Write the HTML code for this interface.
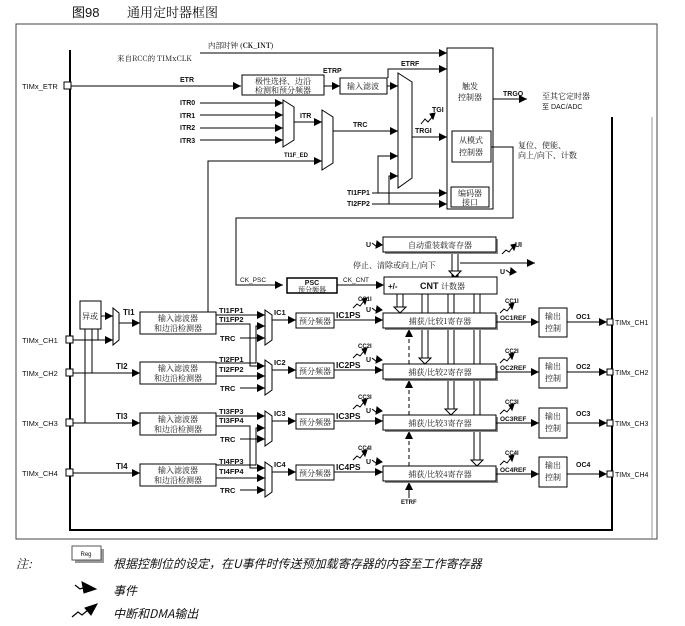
<!DOCTYPE html>
<html><head><meta charset="utf-8"><style>
html,body{margin:0;padding:0;background:#fff;}
svg{display:block;}
text{font-family:"Liberation Sans","Noto Sans CJK SC",sans-serif;fill:#111;}
.b{font-weight:bold;font-size:7px;}
.c{font-family:"Noto Serif CJK SC","Noto Sans CJK SC",serif;font-size:8px;}
.l{font-size:7.5px;}
</style></head><body>
<svg width="685" height="626" viewBox="0 0 685 626" xmlns="http://www.w3.org/2000/svg">
<defs>
<marker id="a" markerUnits="userSpaceOnUse" markerWidth="9" markerHeight="8" refX="8" refY="4" orient="auto"><path d="M0,0 L8,4 L0,8 z" fill="#000"/></marker>
<marker id="h" markerUnits="userSpaceOnUse" markerWidth="12" markerHeight="8" refX="6" refY="7" orient="0"><path d="M0.5,0.5 L11.5,0.5 L6,7.5 z" fill="#fff" stroke="#000" stroke-width="1"/></marker>
</defs>
<g stroke="#000" fill="none" stroke-width="1">
<!-- title -->
<text x="72" y="17" style="font-size:13px" stroke="none">图98</text>
<text x="127" y="17" style="font-size:13px" class="c" stroke="none">通用定时器框图</text>

<!-- frames -->
<rect x="16" y="24" width="641" height="515" stroke="#444"/>
<line x1="70" y1="50" x2="70" y2="530" stroke-width="2"/>
<line x1="69" y1="530" x2="613" y2="530" stroke-width="2"/>
<line x1="612" y1="117" x2="612" y2="531" stroke-width="2"/>
<line x1="652" y1="117" x2="652" y2="539" stroke="#999"/>

<!-- top clock -->
<text x="208" y="48" class="c" stroke="none" style="font-size:7.5px">内部时钟 <tspan class="b">(CK_INT)</tspan></text>
<line x1="200" y1="53" x2="447" y2="53" marker-end="url(#a)"/>
<text x="117" y="61" class="c" stroke="none" style="font-size:7.5px">来自RCC的 TIMxCLK</text>

<!-- ETR -->
<text x="22" y="89" class="l" stroke="none">TIMx_ETR</text>
<rect x="64" y="82" width="7" height="7" fill="#fff"/>
<line x1="71" y1="86" x2="241" y2="86" marker-end="url(#a)"/>
<text x="180" y="82" class="b" stroke="none">ETR</text>
<rect x="242" y="75" width="82" height="20" fill="#fff"/>
<text x="283" y="84" class="c" text-anchor="middle" stroke="none">极性选择、边沿</text>
<text x="283" y="93" class="c" text-anchor="middle" stroke="none">检测和预分频器</text>
<text x="323" y="73" class="b" stroke="none">ETRP</text>
<line x1="324" y1="86" x2="340" y2="86" marker-end="url(#a)"/>
<rect x="340" y="78" width="47" height="16" fill="#fff"/>
<text x="363" y="89" class="c" text-anchor="middle" stroke="none">输入滤波</text>
<line x1="387" y1="86" x2="398" y2="86" marker-end="url(#a)"/>
<polyline points="388,78 388,69 447,69" marker-end="url(#a)"/>
<text x="401" y="66" class="b" stroke="none">ETRF</text>

<!-- ITR mux -->
<text x="180" y="105" class="b" stroke="none">ITR0</text>
<text x="180" y="118" class="b" stroke="none">ITR1</text>
<text x="180" y="130" class="b" stroke="none">ITR2</text>
<text x="180" y="143" class="b" stroke="none">ITR3</text>
<line x1="200" y1="103" x2="283" y2="103" marker-end="url(#a)"/>
<line x1="200" y1="115" x2="283" y2="115" marker-end="url(#a)"/>
<line x1="200" y1="128" x2="283" y2="128" marker-end="url(#a)"/>
<line x1="200" y1="140" x2="283" y2="140" marker-end="url(#a)"/>
<polygon points="283,100 294,107 294,140 283,147" fill="#fff"/>
<line x1="294" y1="122" x2="322" y2="122" marker-end="url(#a)"/>
<text x="300" y="118" class="b" stroke="none">ITR</text>
<polygon points="322,110 333,117 333,163 322,170" fill="#fff"/>
<polyline points="208,312 208,161 322,161" marker-end="url(#a)"/>
<text x="284" y="157" class="b" stroke="none" style="font-size:6px">TI1F_ED</text>
<line x1="333" y1="131" x2="398" y2="131" marker-end="url(#a)"/>
<text x="353" y="127" class="b" stroke="none">TRC</text>

<!-- big mux -->
<polygon points="398,73 412,82 412,178 398,188" fill="#fff"/>
<line x1="412" y1="137" x2="447" y2="137" marker-end="url(#a)"/>
<text x="415" y="133" class="b" stroke="none">TRGI</text>
<polyline points="421,124 425,119 428,122 433,116" />
<path d="M430,114 L435,113 L433,119 z" fill="#000"/>
<text x="432" y="112" class="b" stroke="none">TGI</text>
<text x="347" y="195" class="b" stroke="none">TI1FP1</text>
<text x="347" y="206" class="b" stroke="none">TI2FP2</text>
<line x1="372" y1="193" x2="447" y2="193" marker-end="url(#a)"/>
<line x1="372" y1="204" x2="447" y2="204" marker-end="url(#a)"/>
<polyline points="378,193 378,156 398,156" marker-end="url(#a)"/>
<polyline points="389,204 389,176 398,176" marker-end="url(#a)"/>

<!-- trigger controller -->
<rect x="447" y="48" width="46" height="161" fill="#fff"/>
<text x="470" y="89" class="c" text-anchor="middle" stroke="none">触发</text>
<text x="470" y="100" class="c" text-anchor="middle" stroke="none">控制器</text>
<rect x="452" y="131" width="39" height="31" fill="#fff"/>
<text x="471" y="143" class="c" text-anchor="middle" stroke="none">从模式</text>
<text x="471" y="155" class="c" text-anchor="middle" stroke="none">控制器</text>
<rect x="451" y="187" width="38" height="20" fill="#fff"/>
<text x="470" y="196" class="c" text-anchor="middle" stroke="none">编码器</text>
<text x="470" y="205" class="c" text-anchor="middle" stroke="none">接口</text>
<line x1="493" y1="99" x2="527" y2="99" marker-end="url(#a)"/>
<text x="503" y="96" class="b" stroke="none">TRGO</text>
<text x="542" y="99" class="c" stroke="none">至其它定时器</text>
<text x="542" y="109" class="l" stroke="none" style="font-size:7px">至 DAC/ADC</text>
<text x="518" y="148" class="c" stroke="none">复位、使能、</text>
<text x="518" y="158" class="c" stroke="none">向上/向下、计数</text>
<polyline points="491,147 513,147 513,218 236,218 236,285 283,285" marker-end="url(#a)"/>
<text x="240" y="282" class="l" stroke="none" style="font-size:6.5px">CK_PSC</text>
<rect x="287" y="278" width="50" height="15" fill="#fff" stroke-width="1.5"/>
<text x="312" y="285" class="b" text-anchor="middle" stroke="none">PSC</text>
<text x="312" y="292" class="c" text-anchor="middle" stroke="none" style="font-size:7px">预分频器</text>
<line x1="337" y1="285" x2="384" y2="285" marker-end="url(#a)"/>
<text x="343" y="282" class="l" stroke="none" style="font-size:6.5px">CK_CNT</text>

<!-- auto reload + CNT -->
<line x1="455" y1="252" x2="455" y2="277" stroke-width="7" stroke="#000"/>
<line x1="455" y1="252" x2="455" y2="272" stroke-width="5" stroke="#fff"/>
<path d="M449,271 L461,271 L455,277 z" fill="#fff"/>
<line x1="460" y1="263" x2="535" y2="263" marker-end="url(#a)"/>
<rect x="385" y="239" width="113" height="15" fill="#888" stroke="none"/>
<rect x="383" y="237" width="113" height="15" fill="#fff"/>
<text x="440" y="248" class="c" text-anchor="middle" stroke="none">自动重装载寄存器</text>
<text x="366" y="247" class="b" stroke="none">U</text>
<path d="M372,243 L376,246 L381,244" /><path d="M377,241 L382,245 L376,248 z" fill="#000"/>
<text x="353" y="268" class="c" stroke="none">停止、清除或向上/向下</text>
<polyline points="502,254 506,250 509,252 513,247"/><path d="M511,245 L516,244 L514,250 z" fill="#000"/>
<text x="515" y="247" class="b" stroke="none">UI</text>
<text x="500" y="274" class="b" stroke="none">U</text>
<path d="M506,270 L510,273 L515,271"/><path d="M511,268 L516,272 L510,275 z" fill="#000"/>

<!-- hollow vertical buses -->
<g stroke-width="1">
<line x1="397" y1="294" x2="397" y2="307"/><line x1="403" y1="294" x2="403" y2="307"/>
<line x1="422" y1="294" x2="422" y2="358"/><line x1="428" y1="294" x2="428" y2="358"/>
<line x1="448" y1="294" x2="448" y2="409"/><line x1="454" y1="294" x2="454" y2="409"/>
<line x1="474" y1="294" x2="474" y2="460"/><line x1="480" y1="294" x2="480" y2="460"/>
<path d="M394,307 L406,307 L400,313 z" fill="#fff"/>
<path d="M419,358 L431,358 L425,364 z" fill="#fff"/>
<path d="M445,409 L457,409 L451,415 z" fill="#fff"/>
<path d="M471,460 L483,460 L477,466 z" fill="#fff"/>
</g>
<rect x="384" y="277" width="113" height="17" fill="#fff"/>
<text x="388" y="289" class="b" stroke="none" style="font-size:8px">+/-</text>
<text x="420" y="289" class="b" stroke="none" style="font-size:9px">CNT <tspan class="c" style="font-weight:normal">计数器</tspan></text>

<!-- dashed arrows -->
<line x1="409" y1="364" x2="409" y2="329" stroke-dasharray="4,3" marker-end="url(#a)"/>
<line x1="409" y1="415" x2="409" y2="380" stroke-dasharray="4,3" marker-end="url(#a)"/>
<line x1="409" y1="466" x2="409" y2="431" stroke-dasharray="4,3" marker-end="url(#a)"/>
<line x1="409" y1="498" x2="409" y2="482" marker-end="url(#a)"/>
<text x="401" y="504" class="b" stroke="none" style="font-size:6px">ETRF</text>

<!-- XOR & ch1 input -->
<rect x="80" y="301" width="21" height="28" fill="#fff"/>
<text x="90" y="319" class="c" text-anchor="middle" stroke="none">异或</text>
<line x1="101" y1="316" x2="113" y2="316" marker-end="url(#a)"/>
<polygon points="113,308 119,313 119,340 113,345" fill="#fff"/>
<line x1="73" y1="340" x2="113" y2="340" marker-end="url(#a)"/>
<line x1="85" y1="329" x2="85" y2="423"/>
<line x1="92" y1="329" x2="92" y2="373"/>
<line x1="98" y1="329" x2="98" y2="340"/>
<line x1="119" y1="323" x2="140" y2="323" marker-end="url(#a)"/>
<text x="123" y="315" class="b" stroke="none" style="font-size:8px">TI1</text>
<line x1="73" y1="373" x2="140" y2="373" marker-end="url(#a)"/>
<text x="116" y="369" class="b" stroke="none" style="font-size:8px">TI2</text>
<line x1="73" y1="423" x2="140" y2="423" marker-end="url(#a)"/>
<text x="116" y="419" class="b" stroke="none" style="font-size:8px">TI3</text>
<line x1="73" y1="473" x2="140" y2="473" marker-end="url(#a)"/>
<text x="116" y="469" class="b" stroke="none" style="font-size:8px">TI4</text>

<!-- pins left -->
<text x="22" y="343" class="l" stroke="none">TIMx_CH1</text><rect x="66" y="336" width="7" height="7" fill="#fff"/>
<text x="22" y="376" class="l" stroke="none">TIMx_CH2</text><rect x="66" y="369" width="7" height="7" fill="#fff"/>
<text x="22" y="426" class="l" stroke="none">TIMx_CH3</text><rect x="66" y="419" width="7" height="7" fill="#fff"/>
<text x="22" y="476" class="l" stroke="none">TIMx_CH4</text><rect x="66" y="469" width="7" height="7" fill="#fff"/>

<!-- cross-routing between channel pairs -->
<polyline points="216,324 250,324 250,366 265,366" marker-end="url(#a)"/>
<polyline points="216,363 256,363 256,326 265,326" marker-end="url(#a)"/>
<polyline points="216,426 250,426 250,468 265,468" marker-end="url(#a)"/>
<polyline points="216,465 256,465 256,428 265,428" marker-end="url(#a)"/>
</g>

<!-- channel rows -->
<g stroke="#000" fill="none" stroke-width="1">
<!-- ROW 1 bt=312 -->
<g transform="translate(0,312)">
<rect x="140" y="0" width="76" height="22" fill="#fff"/>
<text x="178" y="9" class="c" text-anchor="middle" stroke="none">输入滤波器</text>
<text x="178" y="19" class="c" text-anchor="middle" stroke="none">和边沿检测器</text>
<text x="219" y="1" class="b" stroke="none" style="font-size:7.5px">TI1FP1</text>
<text x="219" y="10" class="b" stroke="none" style="font-size:7.5px">TI1FP2</text>
<line x1="216" y1="3" x2="265" y2="3" marker-end="url(#a)"/>
<text x="220" y="29" class="b" stroke="none" style="font-size:7.5px">TRC</text>
<line x1="240" y1="26" x2="265" y2="26" marker-end="url(#a)"/>
<polygon points="265,-2 272,3 272,28 265,33" fill="#fff"/>
<line x1="272" y1="8" x2="296" y2="8" marker-end="url(#a)"/>
<text x="274" y="3" class="b" stroke="none" style="font-size:7.5px">IC1</text>
<rect x="296" y="1" width="38" height="15" fill="#fff"/>
<text x="315" y="12" class="c" text-anchor="middle" stroke="none">预分频器</text>
<line x1="334" y1="8" x2="383" y2="8" marker-end="url(#a)"/>
<text x="336" y="6" class="b" stroke="none" style="font-size:8.5px">IC1PS</text>
<polyline points="353,-4 357,-8 360,-6 364,-11"/><path d="M362,-13 L367,-14 L365,-8 z" fill="#000"/>
<text x="358" y="-11" class="b" stroke="none" style="font-size:6px">CC1I</text>
<text x="366" y="0" class="b" stroke="none">U</text>
<path d="M372,-4 L376,-1 L381,-3"/><path d="M377,-6 L382,-2 L376,1 z" fill="#000"/>
<rect x="385" y="3" width="113" height="15" fill="#888" stroke="none"/>
<rect x="383" y="1" width="113" height="15" fill="#fff"/>
<text x="440" y="12" class="c" text-anchor="middle" stroke="none">捕获/比较1寄存器</text>
<line x1="496" y1="10" x2="539" y2="10" marker-end="url(#a)"/>
<text x="500" y="8" class="b" stroke="none" style="font-size:6.5px">OC1REF</text>
<polyline points="500,1 504,-3 507,-1 511,-6"/><path d="M509,-8 L514,-9 L512,-3 z" fill="#000"/>
<text x="505" y="-9" class="b" stroke="none" style="font-size:6px">CC1I</text>
<rect x="539" y="-4" width="28" height="29" fill="#fff"/>
<text x="553" y="7" class="c" text-anchor="middle" stroke="none">输出</text>
<text x="553" y="19" class="c" text-anchor="middle" stroke="none">控制</text>
<line x1="567" y1="10" x2="607" y2="10" marker-end="url(#a)"/>
<text x="576" y="7" class="b" stroke="none">OC1</text>
<rect x="607" y="7" width="6" height="6" fill="#fff"/>
<text x="615" y="13" class="l" stroke="none" style="font-size:7px">TIMx_CH1</text>
</g>
<!-- ROW 2 bt=362 -->
<g transform="translate(0,362)">
<rect x="140" y="0" width="76" height="22" fill="#fff"/>
<text x="178" y="9" class="c" text-anchor="middle" stroke="none">输入滤波器</text>
<text x="178" y="19" class="c" text-anchor="middle" stroke="none">和边沿检测器</text>
<text x="219" y="0" class="b" stroke="none" style="font-size:7.5px">TI2FP1</text>
<text x="219" y="10" class="b" stroke="none" style="font-size:7.5px">TI2FP2</text>
<line x1="216" y1="14" x2="265" y2="14" marker-end="url(#a)"/>
<text x="220" y="29" class="b" stroke="none" style="font-size:7.5px">TRC</text>
<line x1="240" y1="26" x2="265" y2="26" marker-end="url(#a)"/>
<polygon points="265,-2 272,3 272,28 265,33" fill="#fff"/>
<line x1="272" y1="8" x2="296" y2="8" marker-end="url(#a)"/>
<text x="274" y="3" class="b" stroke="none" style="font-size:7.5px">IC2</text>
<rect x="296" y="1" width="38" height="15" fill="#fff"/>
<text x="315" y="12" class="c" text-anchor="middle" stroke="none">预分频器</text>
<line x1="334" y1="8" x2="383" y2="8" marker-end="url(#a)"/>
<text x="336" y="6" class="b" stroke="none" style="font-size:8.5px">IC2PS</text>
<polyline points="353,-4 357,-8 360,-6 364,-11"/><path d="M362,-13 L367,-14 L365,-8 z" fill="#000"/>
<text x="358" y="-14" class="b" stroke="none" style="font-size:6px">CC2I</text>
<text x="366" y="0" class="b" stroke="none">U</text>
<path d="M372,-4 L376,-1 L381,-3"/><path d="M377,-6 L382,-2 L376,1 z" fill="#000"/>
<rect x="385" y="4" width="113" height="15" fill="#888" stroke="none"/>
<rect x="383" y="2" width="113" height="15" fill="#fff"/>
<text x="440" y="13" class="c" text-anchor="middle" stroke="none">捕获/比较2寄存器</text>
<line x1="496" y1="10" x2="539" y2="10" marker-end="url(#a)"/>
<text x="500" y="8" class="b" stroke="none" style="font-size:6.5px">OC2REF</text>
<polyline points="500,1 504,-3 507,-1 511,-6"/><path d="M509,-8 L514,-9 L512,-3 z" fill="#000"/>
<text x="505" y="-9" class="b" stroke="none" style="font-size:6px">CC2I</text>
<rect x="539" y="-4" width="28" height="30" fill="#fff"/>
<text x="553" y="7" class="c" text-anchor="middle" stroke="none">输出</text>
<text x="553" y="19" class="c" text-anchor="middle" stroke="none">控制</text>
<line x1="567" y1="10" x2="607" y2="10" marker-end="url(#a)"/>
<text x="576" y="7" class="b" stroke="none">OC2</text>
<rect x="607" y="7" width="6" height="6" fill="#fff"/>
<text x="615" y="13" class="l" stroke="none" style="font-size:7px">TIMx_CH2</text>
</g>
<!-- ROW 3 bt=413 -->
<g transform="translate(0,413)">
<rect x="140" y="0" width="76" height="22" fill="#fff"/>
<text x="178" y="9" class="c" text-anchor="middle" stroke="none">输入滤波器</text>
<text x="178" y="19" class="c" text-anchor="middle" stroke="none">和边沿检测器</text>
<text x="219" y="1" class="b" stroke="none" style="font-size:7.5px">TI3FP3</text>
<text x="219" y="10" class="b" stroke="none" style="font-size:7.5px">TI3FP4</text>
<line x1="216" y1="3" x2="265" y2="3" marker-end="url(#a)"/>
<text x="220" y="29" class="b" stroke="none" style="font-size:7.5px">TRC</text>
<line x1="240" y1="26" x2="265" y2="26" marker-end="url(#a)"/>
<polygon points="265,-2 272,3 272,28 265,33" fill="#fff"/>
<line x1="272" y1="8" x2="296" y2="8" marker-end="url(#a)"/>
<text x="274" y="3" class="b" stroke="none" style="font-size:7.5px">IC3</text>
<rect x="296" y="1" width="38" height="15" fill="#fff"/>
<text x="315" y="12" class="c" text-anchor="middle" stroke="none">预分频器</text>
<line x1="334" y1="8" x2="383" y2="8" marker-end="url(#a)"/>
<text x="336" y="6" class="b" stroke="none" style="font-size:8.5px">IC3PS</text>
<polyline points="353,-4 357,-8 360,-6 364,-11"/><path d="M362,-13 L367,-14 L365,-8 z" fill="#000"/>
<text x="358" y="-14" class="b" stroke="none" style="font-size:6px">CC3I</text>
<text x="366" y="0" class="b" stroke="none">U</text>
<path d="M372,-4 L376,-1 L381,-3"/><path d="M377,-6 L382,-2 L376,1 z" fill="#000"/>
<rect x="385" y="4" width="113" height="15" fill="#888" stroke="none"/>
<rect x="383" y="2" width="113" height="15" fill="#fff"/>
<text x="440" y="13" class="c" text-anchor="middle" stroke="none">捕获/比较3寄存器</text>
<line x1="496" y1="10" x2="539" y2="10" marker-end="url(#a)"/>
<text x="500" y="8" class="b" stroke="none" style="font-size:6.5px">OC3REF</text>
<polyline points="500,1 504,-3 507,-1 511,-6"/><path d="M509,-8 L514,-9 L512,-3 z" fill="#000"/>
<text x="505" y="-9" class="b" stroke="none" style="font-size:6px">CC3I</text>
<rect x="539" y="-5" width="28" height="30" fill="#fff"/>
<text x="553" y="6" class="c" text-anchor="middle" stroke="none">输出</text>
<text x="553" y="18" class="c" text-anchor="middle" stroke="none">控制</text>
<line x1="567" y1="10" x2="607" y2="10" marker-end="url(#a)"/>
<text x="576" y="3" class="b" stroke="none">OC3</text>
<rect x="607" y="7" width="6" height="6" fill="#fff"/>
<text x="615" y="13" class="l" stroke="none" style="font-size:7px">TIMx_CH3</text>
</g>
<!-- ROW 4 bt=464 -->
<g transform="translate(0,464)">
<rect x="140" y="0" width="76" height="22" fill="#fff"/>
<text x="178" y="9" class="c" text-anchor="middle" stroke="none">输入滤波器</text>
<text x="178" y="19" class="c" text-anchor="middle" stroke="none">和边沿检测器</text>
<text x="219" y="0" class="b" stroke="none" style="font-size:7.5px">TI4FP3</text>
<text x="219" y="10" class="b" stroke="none" style="font-size:7.5px">TI4FP4</text>
<line x1="216" y1="14" x2="265" y2="14" marker-end="url(#a)"/>
<text x="220" y="29" class="b" stroke="none" style="font-size:7.5px">TRC</text>
<line x1="240" y1="26" x2="265" y2="26" marker-end="url(#a)"/>
<polygon points="265,-2 272,3 272,28 265,33" fill="#fff"/>
<line x1="272" y1="8" x2="296" y2="8" marker-end="url(#a)"/>
<text x="274" y="3" class="b" stroke="none" style="font-size:7.5px">IC4</text>
<rect x="296" y="1" width="38" height="15" fill="#fff"/>
<text x="315" y="12" class="c" text-anchor="middle" stroke="none">预分频器</text>
<line x1="334" y1="8" x2="383" y2="8" marker-end="url(#a)"/>
<text x="336" y="6" class="b" stroke="none" style="font-size:8.5px">IC4PS</text>
<polyline points="353,-4 357,-8 360,-6 364,-11"/><path d="M362,-13 L367,-14 L365,-8 z" fill="#000"/>
<text x="358" y="-14" class="b" stroke="none" style="font-size:6px">CC4I</text>
<text x="366" y="0" class="b" stroke="none">U</text>
<path d="M372,-4 L376,-1 L381,-3"/><path d="M377,-6 L382,-2 L376,1 z" fill="#000"/>
<rect x="385" y="4" width="113" height="15" fill="#888" stroke="none"/>
<rect x="383" y="2" width="113" height="15" fill="#fff"/>
<text x="440" y="13" class="c" text-anchor="middle" stroke="none">捕获/比较4寄存器</text>
<line x1="496" y1="10" x2="539" y2="10" marker-end="url(#a)"/>
<text x="500" y="8" class="b" stroke="none" style="font-size:6.5px">OC4REF</text>
<polyline points="500,1 504,-3 507,-1 511,-6"/><path d="M509,-8 L514,-9 L512,-3 z" fill="#000"/>
<text x="505" y="-9" class="b" stroke="none" style="font-size:6px">CC4I</text>
<rect x="539" y="-7" width="28" height="30" fill="#fff"/>
<text x="553" y="4" class="c" text-anchor="middle" stroke="none">输出</text>
<text x="553" y="16" class="c" text-anchor="middle" stroke="none">控制</text>
<line x1="567" y1="10" x2="607" y2="10" marker-end="url(#a)"/>
<text x="576" y="3" class="b" stroke="none">OC4</text>
<rect x="607" y="7" width="6" height="6" fill="#fff"/>
<text x="615" y="13" class="l" stroke="none" style="font-size:7px">TIMx_CH4</text>
</g>
</g>

<!-- legend -->
<g stroke="#000" fill="none">
<text x="16" y="568" class="c" stroke="none" style="font-size:12px;font-style:italic">注:</text>
<rect x="75" y="549" width="29" height="14" fill="#999" stroke="none"/>
<rect x="72" y="546" width="29" height="14" fill="#fff" stroke="#555"/>
<text x="86" y="556" stroke="none" text-anchor="middle" style="font-size:6px">Reg</text>
<text x="113" y="568" class="c" stroke="none" style="font-size:12px;font-style:italic;font-family:'Noto Sans CJK SC',sans-serif">根据控制位的设定，在U事件时传送预加载寄存器的内容至工作寄存器</text>
<path d="M75,585 L80,589 L86,587" stroke-width="1.2"/><path d="M82,582 L96,589 L84,593 z" fill="#000"/>
<text x="113" y="595" class="c" stroke="none" style="font-size:12px;font-style:italic;font-family:'Noto Sans CJK SC',sans-serif">事件</text>
<polyline points="72,617 78,612 82,615 88,610" stroke-width="1.2"/><path d="M85,608 L97,604 L91,615 z" fill="#000"/>
<text x="113" y="618" stroke="none" style="font-size:12px;font-style:italic;font-family:'Noto Sans CJK SC',sans-serif">中断和DMA输出</text>
</g>
</svg>
</body></html>
